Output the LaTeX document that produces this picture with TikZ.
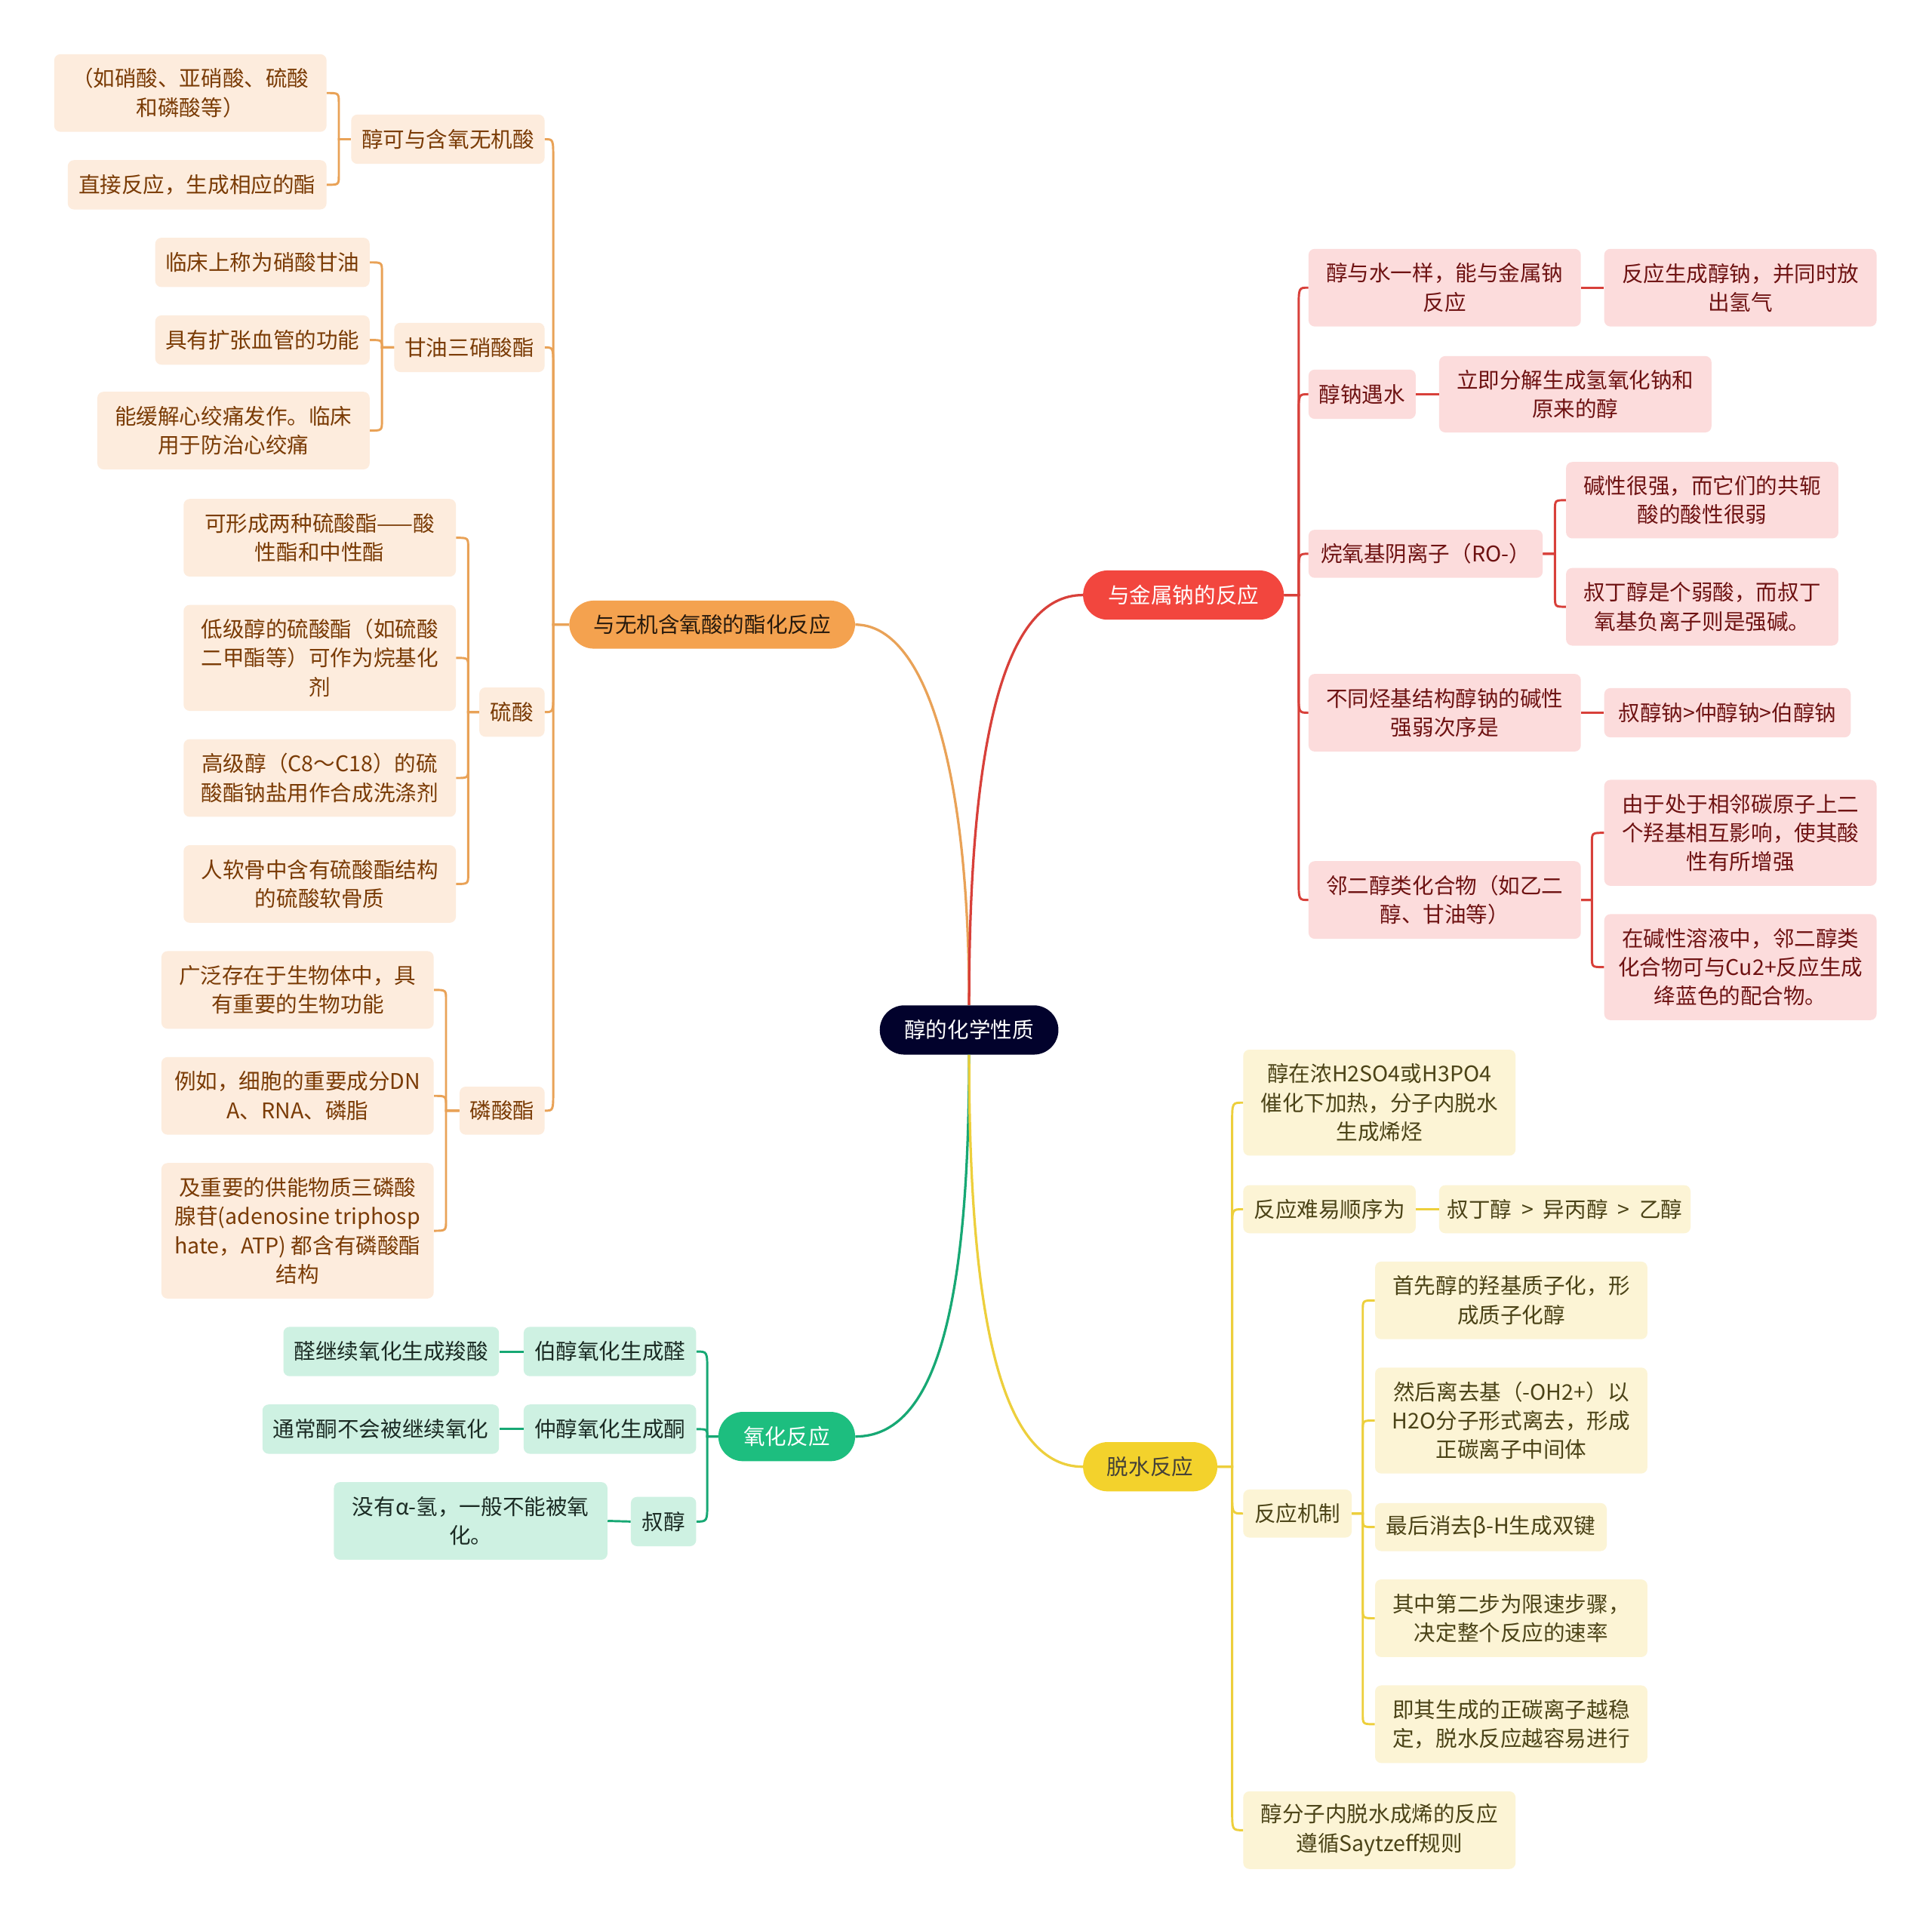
\documentclass[tikz,border=0pt]{standalone}
\usepackage{fontspec}
\setmainfont{Noto Sans CJK SC}
\definecolor{navy}{HTML}{02022C}
\definecolor{omain}{HTML}{F4A24F}
\definecolor{oline}{HTML}{E9A257}
\definecolor{ofill}{HTML}{FDECDD}
\definecolor{otext}{HTML}{7A3B05}
\definecolor{rmain}{HTML}{F2463E}
\definecolor{rline}{HTML}{D8403A}
\definecolor{rfill}{HTML}{FCDCDC}
\definecolor{rtext}{HTML}{6E1212}
\definecolor{gmain}{HTML}{1DBE7F}
\definecolor{gline}{HTML}{17A874}
\definecolor{gfill}{HTML}{CEF1E2}
\definecolor{gtext}{HTML}{1B2B24}
\definecolor{ymain}{HTML}{F3D22C}
\definecolor{yline}{HTML}{EDCF3C}
\definecolor{yfill}{HTML}{FCF4D5}
\definecolor{ytext}{HTML}{4B4317}
\begin{document}
\begin{tikzpicture}[x=1pt,y=-1pt,
  every node/.style={font=\fontsize{17.5}{23.5}\selectfont, inner sep=0pt, align=center},
  sz/.style 2 args={minimum width=#1pt, minimum height=#2pt},
  pill/.style={rounded corners=20pt},
  ob/.style={rounded corners=5pt, fill=ofill, text=otext},
  rb/.style={rounded corners=5pt, fill=rfill, text=rtext},
  gb/.style={rounded corners=5pt, fill=gfill, text=gtext},
  yb/.style={rounded corners=5pt, fill=yfill, text=ytext},
  ol/.style={draw=oline, line width=1.8pt},
  rl/.style={draw=rline, line width=1.8pt},
  gl/.style={draw=gline, line width=1.8pt},
  yl/.style={draw=yline, line width=1.8pt}]
\useasboundingbox (0,0) rectangle (1568,1562);
\fill[white] (0,0) rectangle (1568,1562);

% central and main nodes
\node[pill, fill=navy, text=white, sz={145}{40}] (CT) at (786.5,836) {醇的化学性质};
\node[pill, fill=omain, text=black!80!brown, sz={232}{39}] (OR) at (578,507) {与无机含氧酸的酯化反应};
\node[pill, fill=rmain, text=white, sz={163}{40}] (RD) at (960.5,483) {与金属钠的反应};
\node[pill, fill=gmain, text=white, sz={111}{40}] (GR) at (638.5,1166) {氧化反应};
\node[pill, fill=ymain, text=black!85!yellow, sz={109}{40}] (YE) at (933.5,1190.5) {脱水反应};

\draw[ol, line width=2pt] (CT.north) .. controls (786.5,620) and (750,507) .. (OR.east);
\draw[rl, line width=2pt] (CT.north) .. controls (786.5,600) and (815,483) .. (RD.west);
\draw[gl, line width=2pt] (CT.south) .. controls (786.5,1060) and (760,1166) .. (GR.east);
\draw[yl, line width=2pt] (CT.south) .. controls (786.5,1080) and (815,1190.5) .. (YE.west);

% ---------- orange branch ----------
\node[ob, sz={157}{40}] (A1) at (363.5,113) {醇可与含氧无机酸};
\node[ob, sz={221}{63}] (A1a) at (154.5,75.5) {（如硝酸、亚硝酸、硫酸\\和磷酸等）};
\node[ob, sz={210}{40}] (A1b) at (160,150) {直接反应，生成相应的酯};
\node[ob, sz={122}{40}] (A2) at (381,282) {甘油三硝酸酯};
\node[ob, sz={174}{40}] (A2a) at (213,213) {临床上称为硝酸甘油};
\node[ob, sz={174}{40}] (A2b) at (213,276) {具有扩张血管的功能};
\node[ob, sz={221}{63}] (A2c) at (189.5,349.5) {能缓解心绞痛发作。临床\\用于防治心绞痛};
\node[ob, sz={53}{40}] (A3) at (415.5,578) {硫酸};
\node[ob, sz={221}{63}] (A3a) at (259.5,436.5) {可形成两种硫酸酯——酸\\性酯和中性酯};
\node[ob, sz={221}{86}] (A3b) at (259.5,534) {低级醇的硫酸酯（如硫酸\\二甲酯等）可作为烷基化\\剂};
\node[ob, sz={221}{63}] (A3c) at (259.5,631.5) {高级醇（C8～C18）的硫\\酸酯钠盐用作合成洗涤剂};
\node[ob, sz={221}{63}] (A3d) at (259.5,717.5) {人软骨中含有硫酸酯结构\\的硫酸软骨质};
\node[ob, sz={69}{39}] (A4) at (407.5,901.5) {磷酸酯};
\node[ob, sz={221}{63}] (A4a) at (241.5,803.5) {广泛存在于生物体中，具\\有重要的生物功能};
\node[ob, sz={221}{63}] (A4b) at (241.5,889.5) {例如，细胞的重要成分DN\\A、RNA、磷脂};
\node[ob, sz={221}{110}] (A4c) at (241.5,999) {及重要的供能物质三磷酸\\腺苷(adenosine triphosp\\hate，ATP) 都含有磷酸酯\\结构};

\draw[ol] (OR.west) -- (449,507) -- (449,129) .. controls (449,113) .. (A1.east);
\draw[ol] (OR.west) -- (449,507) -- (449,298) .. controls (449,282) .. (A2.east);
\draw[ol] (OR.west) -- (449,507) -- (449,562) .. controls (449,578) .. (A3.east);
\draw[ol] (OR.west) -- (449,507) -- (449,885) .. controls (449,901.5) .. (A4.east);

\draw[ol] (A1.west) -- (275,113) -- (275,84) .. controls (275,75.5) .. (A1a.east);
\draw[ol] (A1.west) -- (275,113) -- (275,142) .. controls (275,150) .. (A1b.east);

\draw[ol] (A2.west) -- (310,282) -- (310,221) .. controls (310,213) .. (A2a.east);
\draw[ol] (A2.west) -- (310,282) .. controls (310,276) .. (A2b.east);
\draw[ol] (A2.west) -- (310,282) -- (310,341) .. controls (310,349.5) .. (A2c.east);

\draw[ol] (A3.west) -- (380,578) -- (380,445) .. controls (380,436.5) .. (A3a.east);
\draw[ol] (A3.west) -- (380,578) -- (380,542) .. controls (380,534) .. (A3b.east);
\draw[ol] (A3.west) -- (380,578) -- (380,623) .. controls (380,631.5) .. (A3c.east);
\draw[ol] (A3.west) -- (380,578) -- (380,709) .. controls (380,717.5) .. (A3d.east);

\draw[ol] (A4.west) -- (362,901.5) -- (362,812) .. controls (362,803.5) .. (A4a.east);
\draw[ol] (A4.west) -- (362,901.5) -- (362,898) .. controls (362,889.5) .. (A4b.east);
\draw[ol] (A4.west) -- (362,901.5) -- (362,990) .. controls (362,999) .. (A4c.east);

% ---------- red branch ----------
\node[rb, sz={221}{63}] (B1) at (1172.5,233.5) {醇与水一样，能与金属钠\\反应};
\node[rb, sz={221}{63}] (B1a) at (1412.5,233.5) {反应生成醇钠，并同时放\\出氢气};
\node[rb, sz={87}{40}] (B2) at (1105.5,320) {醇钠遇水};
\node[rb, sz={221}{62}] (B2a) at (1278.5,320) {立即分解生成氢氧化钠和\\原来的醇};
\node[rb, sz={190}{39}] (B3) at (1157,449.5) {烷氧基阴离子（RO-）};
\node[rb, sz={221}{62}] (B3a) at (1381.5,406) {碱性很强，而它们的共轭\\酸的酸性很弱};
\node[rb, sz={221}{63}] (B3b) at (1381.5,492.5) {叔丁醇是个弱酸，而叔丁\\氧基负离子则是强碱。};
\node[rb, sz={221}{63}] (B4) at (1172.5,578.5) {不同烃基结构醇钠的碱性\\强弱次序是};
\node[rb, sz={200}{40}] (B4a) at (1402,578.5) {叔醇钠>仲醇钠>伯醇钠};
\node[rb, sz={221}{63}] (B5) at (1172.5,730.5) {邻二醇类化合物（如乙二\\醇、甘油等）};
\node[rb, sz={221}{86}] (B5a) at (1412.5,676) {由于处于相邻碳原子上二\\个羟基相互影响，使其酸\\性有所增强};
\node[rb, sz={221}{86}] (B5b) at (1412.5,785) {在碱性溶液中，邻二醇类\\化合物可与Cu2+反应生成\\绛蓝色的配合物。};

\draw[rl] (RD.east) -- (1054,483) -- (1054,250) .. controls (1054,233.5) .. (B1.west);
\draw[rl] (RD.east) -- (1054,483) -- (1054,336) .. controls (1054,320) .. (B2.west);
\draw[rl] (RD.east) -- (1054,483) -- (1054,466) .. controls (1054,449.5) .. (B3.west);
\draw[rl] (RD.east) -- (1054,483) -- (1054,562) .. controls (1054,578.5) .. (B4.west);
\draw[rl] (RD.east) -- (1054,483) -- (1054,714) .. controls (1054,730.5) .. (B5.west);

\draw[rl] (B1.east) -- (B1a.west);
\draw[rl] (B2.east) -- (B2a.west);
\draw[rl] (B3.east) -- (1262,449.5) -- (1262,414) .. controls (1262,406) .. (B3a.west);
\draw[rl] (B3.east) -- (1262,449.5) -- (1262,484) .. controls (1262,492.5) .. (B3b.west);
\draw[rl] (B4.east) -- (B4a.west);
\draw[rl] (B5.east) -- (1292,730.5) -- (1292,684) .. controls (1292,676) .. (B5a.west);
\draw[rl] (B5.east) -- (1292,730.5) -- (1292,777) .. controls (1292,785) .. (B5b.west);

% ---------- green branch ----------
\node[gb, sz={140}{40}] (C1) at (495,1097) {伯醇氧化生成醛};
\node[gb, sz={175}{40}] (C1a) at (317.5,1097) {醛继续氧化生成羧酸};
\node[gb, sz={140}{40}] (C2) at (495,1160) {仲醇氧化生成酮};
\node[gb, sz={192}{40}] (C2a) at (309,1160) {通常酮不会被继续氧化};
\node[gb, sz={53}{40}] (C3) at (538.5,1235) {叔醇};
\node[gb, sz={222}{63}] (C3a) at (382,1234.5) {没有α-氢，一般不能被氧\\化。};

\draw[gl] (GR.west) -- (574,1166) -- (574,1113) .. controls (574,1097) .. (C1.east);
\draw[gl] (GR.west) -- (574,1166) .. controls (574,1160) .. (C2.east);
\draw[gl] (GR.west) -- (574,1166) -- (574,1219) .. controls (574,1235) .. (C3.east);
\draw[gl] (C1.west) -- (C1a.east);
\draw[gl] (C2.west) -- (C2a.east);
\draw[gl] (C3.west) -- (C3a.east);

% ---------- yellow branch ----------
\node[yb, sz={221}{86}] (D1) at (1119.5,895) {醇在浓H2SO4或H3PO4\\催化下加热，分子内脱水\\生成烯烃};
\node[yb, sz={140}{39}] (D2) at (1079,981.5) {反应难易顺序为};
\node[yb, sz={204}{39}] (D2a) at (1270,981.5) {叔丁醇\hspace{0.45em}>\hspace{0.45em}异丙醇\hspace{0.45em}>\hspace{0.45em}乙醇};
\node[yb, sz={88}{39}] (D3) at (1053,1228.5) {反应机制};
\node[yb, sz={221}{63}] (D3a) at (1226.5,1055.5) {首先醇的羟基质子化，形\\成质子化醇};
\node[yb, sz={221}{86}] (D3b) at (1226.5,1153) {然后离去基（-OH2+）以\\H2O分子形式离去，形成\\正碳离子中间体};
\node[yb, sz={188}{39}] (D3c) at (1210,1239.5) {最后消去β-H生成双键};
\node[yb, sz={221}{63}] (D3d) at (1226.5,1313.5) {其中第二步为限速步骤，\\决定整个反应的速率};
\node[yb, sz={221}{63}] (D3e) at (1226.5,1399.5) {即其生成的正碳离子越稳\\定，脱水反应越容易进行};
\node[yb, sz={221}{63}] (D4) at (1119.5,1485.5) {醇分子内脱水成烯的反应\\遵循Saytzeff规则};

\draw[yl] (YE.east) -- (1000,1190.5) -- (1000,911) .. controls (1000,895) .. (D1.west);
\draw[yl] (YE.east) -- (1000,1190.5) -- (1000,997) .. controls (1000,981.5) .. (D2.west);
\draw[yl] (YE.east) -- (1000,1190.5) -- (1000,1212) .. controls (1000,1228.5) .. (D3.west);
\draw[yl] (YE.east) -- (1000,1190.5) -- (1000,1469) .. controls (1000,1485.5) .. (D4.west);
\draw[yl] (D2.east) -- (D2a.west);
\draw[yl] (D3.east) -- (1106,1228.5) -- (1106,1064) .. controls (1106,1055.5) .. (D3a.west);
\draw[yl] (D3.east) -- (1106,1228.5) -- (1106,1161) .. controls (1106,1153) .. (D3b.west);
\draw[yl] (D3.east) -- (1106,1228.5) -- (1106,1232) .. controls (1106,1239.5) .. (D3c.west);
\draw[yl] (D3.east) -- (1106,1228.5) -- (1106,1305) .. controls (1106,1313.5) .. (D3d.west);
\draw[yl] (D3.east) -- (1106,1228.5) -- (1106,1391) .. controls (1106,1399.5) .. (D3e.west);
\end{tikzpicture}
\end{document}
